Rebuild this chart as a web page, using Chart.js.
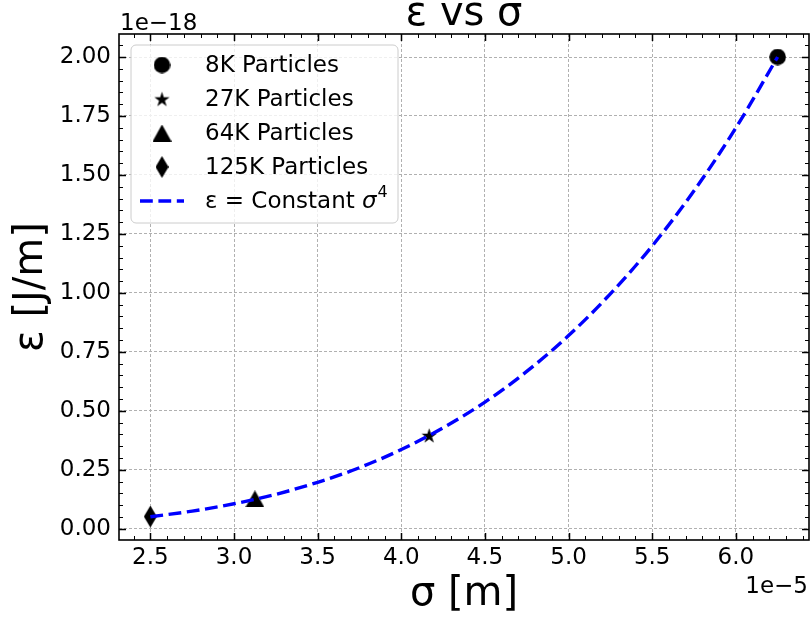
<!DOCTYPE html>
<html><head><meta charset="utf-8">
<script src="https://cdn.jsdelivr.net/npm/chart.js@4.4.0/dist/chart.umd.min.js"></script>
<style>html,body{margin:0;padding:0;background:#fff;}#wrap{width:811px;height:617px;}</style>
</head><body><div id="wrap"><canvas id="c" width="811" height="617"></canvas></div>
<script>
// σ in units of 1e-5 m, ε in units of 1e-18 J/m
const seriesLabels = ['8K Particles', '27K Particles', '64K Particles', '125K Particles'];
const sigmaPoints = [6.25, 4.1667, 3.125, 2.5];
const epsPoints = [2.00, 0.396, 0.127, 0.052];
const curveLabel = 'ε = Constant σ⁴';
const sigmaCurve = [2.5, 2.75, 3.0, 3.25, 3.5, 3.75, 4.0, 4.25, 4.5, 4.75, 5.0, 5.25, 5.5, 5.75, 6.0, 6.25];
const epsCurve = [0.051, 0.075, 0.106, 0.146, 0.197, 0.259, 0.336, 0.428, 0.537, 0.667, 0.819, 0.996, 1.199, 1.433, 1.699, 2.00];
const xTickValues = [2.5, 3.0, 3.5, 4.0, 4.5, 5.0, 5.5, 6.0];
const xTickLabels = ['2.5', '3.0', '3.5', '4.0', '4.5', '5.0', '5.5', '6.0'];
const yTickValues = [0, 0.25, 0.5, 0.75, 1.0, 1.25, 1.5, 1.75, 2.0];
const yTickLabels = ['0.00', '0.25', '0.50', '0.75', '1.00', '1.25', '1.50', '1.75', '2.00'];

const FONT = 'DejaVu Sans';
const TICK_SIZE = 23;
const LABEL_SIZE = 40;

function makeMarker(w, h, draw) {
  const c = document.createElement('canvas');
  c.width = w; c.height = h;
  const g = c.getContext('2d');
  g.fillStyle = '#000';
  draw(g, w, h);
  return c;
}
const circleMk = makeMarker(17, 17, (g) => { g.beginPath(); g.arc(8.5, 8.5, 8.3, 0, Math.PI * 2); g.fill(); });
const starMk = makeMarker(17, 17, (g) => {
  const R = 8, r = R * 0.382, cx = 8.5, cy = 9.2;
  g.beginPath();
  for (let i = 0; i < 10; i++) {
    const a = -Math.PI / 2 + i * Math.PI / 5;
    const rr = i % 2 === 0 ? R : r;
    const px = cx + rr * Math.cos(a), py = cy + rr * Math.sin(a);
    if (i === 0) g.moveTo(px, py); else g.lineTo(px, py);
  }
  g.closePath(); g.fill();
});
const triMk = makeMarker(19, 17, (g, w, h) => { g.beginPath(); g.moveTo(w / 2, 0); g.lineTo(w, h); g.lineTo(0, h); g.closePath(); g.fill(); });
const diaMk = makeMarker(13, 22, (g, w, h) => { g.beginPath(); g.moveTo(w / 2, 0); g.lineTo(w, h / 2); g.lineTo(w / 2, h); g.lineTo(0, h / 2); g.closePath(); g.fill(); });
const markerStyles = [circleMk, starMk, triMk, diaMk];

const datasets = seriesLabels.map((lab, i) => ({
  label: lab,
  data: [{ x: sigmaPoints[i], y: epsPoints[i] }],
  pointStyle: markerStyles[i],
  pointRadius: 8,
  showLine: false,
  order: 1
}));
datasets.push({
  label: curveLabel,
  data: sigmaCurve.map((s, i) => ({ x: s, y: epsCurve[i] })),
  showLine: true,
  borderColor: '#0000ff',
  borderWidth: 3.4,
  borderDash: [12.8, 5.6],
  cubicInterpolationMode: 'monotone',
  pointRadius: 0,
  fill: false,
  order: 0
});

const decor = {
  id: 'decor',
  afterDraw(chart) {
    const ctx = chart.ctx, a = chart.chartArea;
    const xs = chart.scales.x, ys = chart.scales.y;
    ctx.save();
    // frame
    ctx.strokeStyle = '#000';
    ctx.lineWidth = 1.6;
    ctx.strokeRect(a.left, a.top, a.right - a.left, a.bottom - a.top);
    // ticks inward, all four sides
    const tickX = (v, len, lw) => {
      const p = Math.round(xs.getPixelForValue(v)) + 0.5;
      ctx.lineWidth = lw; ctx.beginPath();
      ctx.moveTo(p, a.bottom); ctx.lineTo(p, a.bottom - len);
      ctx.moveTo(p, a.top); ctx.lineTo(p, a.top + len);
      ctx.stroke();
    };
    const tickY = (v, len, lw) => {
      const p = Math.round(ys.getPixelForValue(v)) + 0.5;
      ctx.lineWidth = lw; ctx.beginPath();
      ctx.moveTo(a.left, p); ctx.lineTo(a.left + len, p);
      ctx.moveTo(a.right, p); ctx.lineTo(a.right - len, p);
      ctx.stroke();
    };
    xTickValues.forEach(v => tickX(v, 7, 1.5));
    yTickValues.forEach(v => tickY(v, 7, 1.5));
    for (let k = 24; k <= 64; k++) { if (k % 5 !== 0) tickX(k / 10, 4, 1); }
    for (let k = 0; k <= 41; k++) { if (k % 5 !== 0) tickY(k * 0.05, 4, 1); }

    // titles
    ctx.fillStyle = '#000';
    ctx.font = LABEL_SIZE + 'px "' + FONT + '"';
    ctx.textAlign = 'center';
    ctx.textBaseline = 'alphabetic';
    ctx.fillText('ε vs σ', (a.left + a.right) / 2, 25);
    ctx.fillText('σ [m]', (a.left + a.right) / 2, 605);
    ctx.save();
    ctx.translate(42, (a.top + a.bottom) / 2);
    ctx.rotate(-Math.PI / 2);
    ctx.fillText('ε [J/m]', 0, 0);
    ctx.restore();
    // offset texts
    ctx.font = TICK_SIZE + 'px "' + FONT + '"';
    ctx.textAlign = 'left';
    ctx.fillText('1e\u221218', 120, 30);
    ctx.textAlign = 'right';
    ctx.fillText('1e\u22125', 808, 593);

    // legend
    const lx = 131, ly = 45, lw = 267, lh = 178, r = 5;
    ctx.beginPath();
    ctx.moveTo(lx + r, ly); ctx.lineTo(lx + lw - r, ly); ctx.arcTo(lx + lw, ly, lx + lw, ly + r, r);
    ctx.lineTo(lx + lw, ly + lh - r); ctx.arcTo(lx + lw, ly + lh, lx + lw - r, ly + lh, r);
    ctx.lineTo(lx + r, ly + lh); ctx.arcTo(lx, ly + lh, lx, ly + lh - r, r);
    ctx.lineTo(lx, ly + r); ctx.arcTo(lx, ly, lx + r, ly, r); ctx.closePath();
    ctx.fillStyle = 'rgba(255,255,255,0.8)'; ctx.fill();
    ctx.strokeStyle = '#cccccc'; ctx.lineWidth = 1; ctx.stroke();
    const rowY = [65, 99, 133, 167, 201];
    const mx = 162, tx = 205;
    ctx.textAlign = 'left'; ctx.textBaseline = 'middle';
    ctx.fillStyle = '#000';
    chart.data.datasets.forEach((ds, i) => {
      const y = rowY[i];
      if (ds.showLine) {
        ctx.save();
        ctx.strokeStyle = ds.borderColor; ctx.lineWidth = ds.borderWidth;
        ctx.setLineDash(ds.borderDash);
        ctx.beginPath(); ctx.moveTo(140, y); ctx.lineTo(184, y); ctx.stroke();
        ctx.restore();
        // label with italic sigma and superscript 4
        ctx.font = TICK_SIZE + 'px "' + FONT + '"';
        const base = 'ε = Constant ';
        ctx.fillText(base, tx, y + 1);
        let x2 = tx + ctx.measureText(base).width;
        ctx.font = 'italic ' + TICK_SIZE + 'px "' + FONT + '"';
        ctx.fillText('σ', x2, y + 1);
        x2 += ctx.measureText('σ').width + 1;
        ctx.font = '16px "' + FONT + '"';
        ctx.fillText('4', x2, y - 8);
      } else {
        const img = ds.pointStyle;
        ctx.drawImage(img, mx - img.width / 2, y - img.height / 2);
        ctx.font = TICK_SIZE + 'px "' + FONT + '"';
        ctx.fillText(ds.label, tx, y + 1);
      }
    });
    ctx.restore();
  }
};

const gridColor = '#b0b0b0';
new Chart(document.getElementById('c'), {
  type: 'scatter',
  data: { datasets },
  options: {
    responsive: false,
    animation: false,
    devicePixelRatio: 1,
    layout: { autoPadding: false, padding: { top: 34, left: 0, right: 2, bottom: 0 } },
    plugins: { legend: { display: false }, tooltip: { enabled: false }, title: { display: false } },
    scales: {
      x: {
        type: 'linear', min: 2.3125, max: 6.4375,
        afterBuildTicks: (s) => { s.ticks = xTickValues.map(v => ({ value: v })); },
        afterFit: (s) => { s.height = 77; s.paddingLeft = 0; s.paddingRight = 0; },
        ticks: {
          autoSkip: false, maxRotation: 0, minRotation: 0, padding: 4,
          color: '#000', font: { family: FONT, size: TICK_SIZE },
          callback: (v, i) => xTickLabels[i]
        },
        grid: { drawTicks: false, color: gridColor, lineWidth: 1 },
        border: { display: false, dash: [3, 2] }
      },
      y: {
        type: 'linear', min: -0.0475, max: 2.0975,
        afterBuildTicks: (s) => { s.ticks = yTickValues.map(v => ({ value: v })); },
        afterFit: (s) => { s.width = 119; s.paddingTop = 0; s.paddingBottom = 0; },
        ticks: {
          autoSkip: false, padding: 8,
          color: '#000', font: { family: FONT, size: TICK_SIZE },
          callback: (v, i) => yTickLabels[i]
        },
        grid: { drawTicks: false, color: gridColor, lineWidth: 1 },
        border: { display: false, dash: [3, 2] }
      }
    }
  },
  plugins: [decor]
});
</script></body></html>
